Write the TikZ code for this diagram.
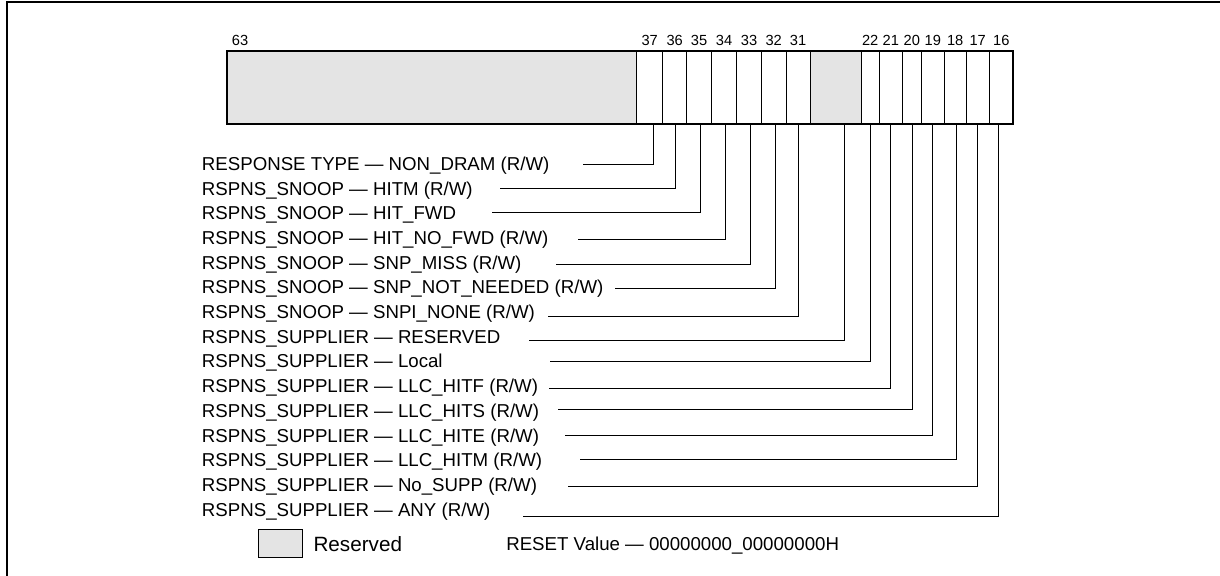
\documentclass[tikz,border=0pt]{standalone}
\usepackage{fontspec}
\setmainfont{Liberation Sans}
\definecolor{resgray}{RGB}{228,228,228}
\begin{document}
\begin{tikzpicture}[x=0.75pt,y=-0.75pt,
  lbl/.style={anchor=base west, inner sep=0pt, font=\fontsize{14}{16}\selectfont},
  bitnum/.style={anchor=base, inner sep=0pt, font=\fontsize{11}{13}\selectfont},
  leader/.style={line width=0.75pt},
  divider/.style={line width=0.75pt},
  regframe/.style={line width=1.5pt},
  outer/.style={line width=1.5pt},
  legtext/.style={anchor=base west, inner sep=0pt, font=\fontsize{15.5}{17}\selectfont}]
\useasboundingbox (0,0) rectangle (1220,575);
% outer frame (cropped)
\draw[outer] (7,580) -- (7,2) -- (1225,2);
% register
\fill[resgray] (227,51) rectangle (636.7,124.3);
\fill[resgray] (810,51) rectangle (861,124.3);
\foreach \dx in {636.7,662.7,686.7,711.3,736.7,761.3,786,810,861,879.3,902.3,921.3,944.3,966,989.3}
  \draw[divider] (\dx,51) -- (\dx,124.3);
\draw[regframe] (227,51) rectangle (1013.3,124.3);
% bit numbers
\node[bitnum] (n63) at (240,45) {63};
\node[bitnum] (n37) at (649.7,45) {37};
\node[bitnum] (n36) at (674.7,45) {36};
\node[bitnum] (n35) at (699,45) {35};
\node[bitnum] (n34) at (724,45) {34};
\node[bitnum] (n33) at (749,45) {33};
\node[bitnum] (n32) at (773.7,45) {32};
\node[bitnum] (n31) at (798,45) {31};
\node[bitnum] (n22) at (870.2,45) {22};
\node[bitnum] (n21) at (890.8,45) {21};
\node[bitnum] (n20) at (911.8,45) {20};
\node[bitnum] (n19) at (932.8,45) {19};
\node[bitnum] (n18) at (955.2,45) {18};
\node[bitnum] (n17) at (977.7,45) {17};
\node[bitnum] (n16) at (1001.3,45) {16};
% labels
\node[lbl] (t37) at (201.7,170.3) {RESPONSE TYPE — NON\_DRAM (R/W)};
\node[lbl] (t36) at (201.7,195.0) {RSPNS\_SNOOP — HITM (R/W)};
\node[lbl] (t35) at (201.7,219.7) {RSPNS\_SNOOP — HIT\_FWD};
\node[lbl] (t34) at (201.7,244.4) {RSPNS\_SNOOP — HIT\_NO\_FWD (R/W)};
\node[lbl] (t33) at (201.7,269.1) {RSPNS\_SNOOP — SNP\_MISS (R/W)};
\node[lbl] (t32) at (201.7,293.8) {RSPNS\_SNOOP — SNP\_NOT\_NEEDED (R/W)};
\node[lbl] (t31) at (201.7,318.5) {RSPNS\_SNOOP — SNPI\_NONE (R/W)};
\node[lbl] (tres) at (201.7,343.2) {RSPNS\_SUPPLIER — RESERVED};
\node[lbl] (t22) at (201.7,367.9) {RSPNS\_SUPPLIER — Local};
\node[lbl] (t21) at (201.7,392.6) {RSPNS\_SUPPLIER — LLC\_HITF (R/W)};
\node[lbl] (t20) at (201.7,417.3) {RSPNS\_SUPPLIER — LLC\_HITS (R/W)};
\node[lbl] (t19) at (201.7,442.0) {RSPNS\_SUPPLIER — LLC\_HITE (R/W)};
\node[lbl] (t18) at (201.7,466.7) {RSPNS\_SUPPLIER — LLC\_HITM (R/W)};
\node[lbl] (t17) at (201.7,491.4) {RSPNS\_SUPPLIER — No\_SUPP (R/W)};
\node[lbl] (t16) at (201.7,516.1) {RSPNS\_SUPPLIER — ANY (R/W)};
% leader endpoints
\coordinate (b37) at (653.3,124.3);  \coordinate (e37) at (583.3,164);
\coordinate (b36) at (675.3,124.3);  \coordinate (e36) at (500,188.3);
\coordinate (b35) at (700.3,124.3);  \coordinate (e35) at (491.7,212.3);
\coordinate (b34) at (725.3,124.3);  \coordinate (e34) at (578.3,239);
\coordinate (b33) at (750.3,124.3);  \coordinate (e33) at (556,264.3);
\coordinate (b32) at (775.7,124.3);  \coordinate (e32) at (615,288.3);
\coordinate (b31) at (798.7,124.3);  \coordinate (e31) at (547.5,316);
\coordinate (bres) at (844.3,124.3); \coordinate (eres) at (529.3,340);
\coordinate (b22) at (870.3,124.3);  \coordinate (e22) at (550,361);
\coordinate (b21) at (890.3,124.3);  \coordinate (e21) at (549.3,388.3);
\coordinate (b20) at (912.3,124.3);  \coordinate (e20) at (558.3,409);
\coordinate (b19) at (932.3,124.3);  \coordinate (e19) at (565,435.3);
\coordinate (b18) at (956.3,124.3);  \coordinate (e18) at (580,459.3);
\coordinate (b17) at (977.3,124.3);  \coordinate (e17) at (568.3,486.7);
\coordinate (b16) at (998.3,124.3);  \coordinate (e16) at (522.7,516);
\foreach \k in {37,36,35,34,33,32,31,res,22,21,20,19,18,17,16}
  \draw[leader] (b\k) |- (e\k);
% legend
\draw[line width=0.75pt, fill=resgray] (258.3,529.3) rectangle (302.3,557.3);
\node[legtext] (legres) at (313.3,551) {Reserved};
\node[lbl] (reset) at (506,550.7) {RESET Value — 00000000\_00000000H};
\end{tikzpicture}
\end{document}
